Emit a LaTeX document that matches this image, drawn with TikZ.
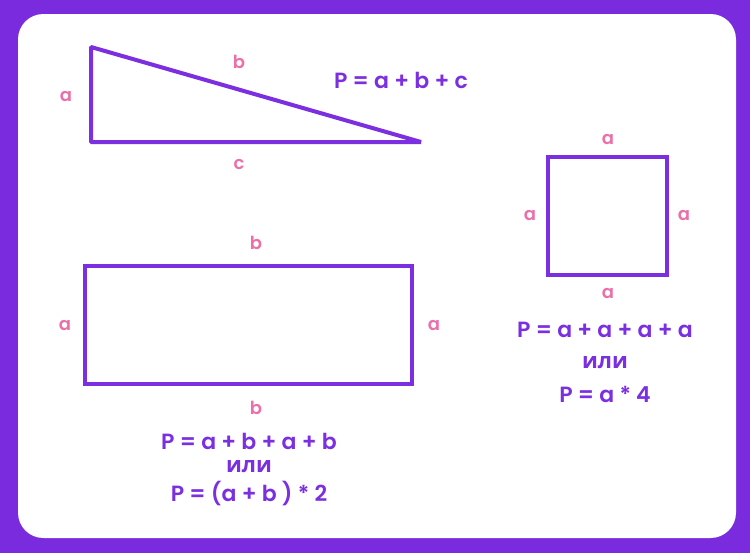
\documentclass[tikz,border=0pt]{standalone}
\usepackage{fontspec}
\setmainfont{Poppins}[BoldFont={* SemiBold}]
\newfontfamily\cyr{Open Sans}[BoldFont={* Bold}]
\usepackage{xcolor}
\usetikzlibrary{positioning}
\definecolor{bgpurple}{HTML}{7A2BDD}
\definecolor{figpurple}{HTML}{7B2FE0}
\definecolor{labelpink}{HTML}{EC6FAA}

\begin{document}
\begin{tikzpicture}[
    x=0.75pt, y=-0.75pt,
    side/.style={font=\bfseries\fontsize{13.5}{15}\selectfont, text=labelpink, inner sep=0pt},
    formula/.style={font=\bfseries\fontsize{16.5}{19}\selectfont, text=figpurple, inner sep=0pt},
    figure/.style={draw=figpurple, line width=3pt, line join=miter}
]
% background card
\fill[bgpurple] (0,0) rectangle (750,553);
\fill[white, rounded corners=19pt] (18,14) rectangle (736,538);

% triangle
\coordinate (tA) at (91,47);
\coordinate (tB) at (91,142);
\coordinate (tC) at (421,142);
\draw[figure, line join=bevel] (tA) -- (tB) -- (tC) -- cycle;
\node[side] (triA) at (66,97) {a};
\node[side] (triB) at (239,62) {b};
\node[side] (triC) at (239,165) {c};
\node[formula] (triP) at (401,80) {P = a + b + c};

% rectangle
\coordinate (rTL) at (85,266);
\coordinate (rBR) at (412,384);
\draw[figure] (rTL) rectangle (rBR);
\node[side] (recTop) at (256,243) {b};
\node[side] (recLeft) at (65,326) {a};
\node[side] (recRight) at (434,326) {a};
\node[side] (recBot) at (256,408) {b};
\node[formula] (recP1) at (249,441) {P = a + b + a + b};
\node[formula] (recOr) at (249,467) {\cyr\bfseries или};
\node[formula] (recP2) at (249,493) {P = (a + b ) * 2};

% square
\coordinate (sTL) at (548,157);
\coordinate (sBR) at (667,275);
\draw[figure] (sTL) rectangle (sBR);
\node[side] (sqTop) at (608,140) {a};
\node[side] (sqLeft) at (530,216) {a};
\node[side] (sqRight) at (684,216) {a};
\node[side] (sqBot) at (608,294) {a};
\node[formula] (sqP1) at (605,330) {P = a + a + a + a};
\node[formula] (sqOr) at (605,363) {\cyr\bfseries или};
\node[formula] (sqP2) at (605,394) {P = a * 4};
\end{tikzpicture}
\end{document}
